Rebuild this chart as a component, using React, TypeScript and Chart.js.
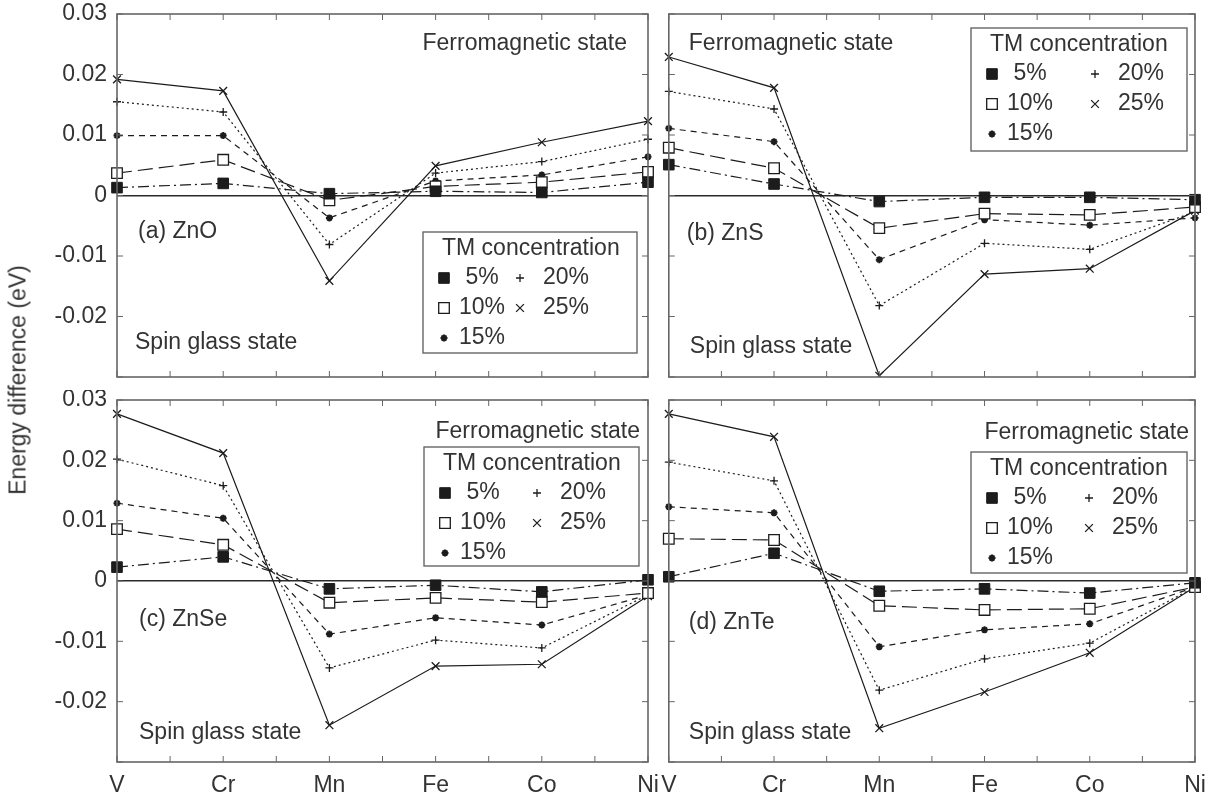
import React, { useEffect, useRef } from 'react';
import { Chart, registerables } from 'chart.js';
import { drawPoint } from 'chart.js/helpers';

Chart.register(...registerables);

// Dopant elements on the x axis
const elements = ['V', 'Cr', 'Mn', 'Fe', 'Co', 'Ni'];
// TM concentration series labels
const concentrationLabels = [' 5%', '10%', '15%', '20%', '25%'];
// Energy axis range (eV)
const yMin = -0.03;
const yMax = 0.03;
const yStep = 0.01;

// (a) ZnO
const znO5 = [0.0013, 0.002, 0.0003, 0.0007, 0.0005, 0.0022];
const znO10 = [0.0037, 0.0059, -0.0008, 0.0015, 0.0022, 0.0039];
const znO15 = [0.0099, 0.0099, -0.0037, 0.0024, 0.0034, 0.0064];
const znO20 = [0.0155, 0.0138, -0.0081, 0.0037, 0.0056, 0.0093];
const znO25 = [0.0192, 0.0173, -0.0141, 0.0049, 0.0088, 0.0123];

// (b) ZnS
const znS5 = [0.0051, 0.0019, -0.001, -0.0003, -0.0003, -0.0007];
const znS10 = [0.0079, 0.0045, -0.0054, -0.003, -0.0032, -0.0019];
const znS15 = [0.0111, 0.0089, -0.0106, -0.004, -0.0049, -0.0037];
const znS20 = [0.0172, 0.0143, -0.0182, -0.0079, -0.0089, -0.0027];
const znS25 = [0.0229, 0.0178, -0.0298, -0.013, -0.0121, -0.0025];

// (c) ZnSe
const znSe5 = [0.0023, 0.004, -0.0013, -0.0007, -0.0018, 0.0002];
const znSe10 = [0.0086, 0.006, -0.0036, -0.0028, -0.0035, -0.002];
const znSe15 = [0.0129, 0.0104, -0.0088, -0.0061, -0.0073, -0.0023];
const znSe20 = [0.0202, 0.0158, -0.0144, -0.0098, -0.0111, -0.0023];
const znSe25 = [0.0277, 0.0212, -0.0239, -0.0141, -0.0138, -0.0025];

// (d) ZnTe
const znTe5 = [0.0007, 0.0046, -0.0017, -0.0013, -0.002, -0.0003];
const znTe10 = [0.007, 0.0068, -0.0041, -0.0048, -0.0046, -0.001];
const znTe15 = [0.0123, 0.0113, -0.0109, -0.0081, -0.0071, -0.001];
const znTe20 = [0.0197, 0.0166, -0.0181, -0.0129, -0.0103, -0.001];
const znTe25 = [0.0277, 0.0239, -0.0244, -0.0184, -0.0119, -0.001];

const FONT = '"Liberation Sans", Arial, Helvetica, sans-serif';
const FONT_SIZE = 23;
const TEXT = '#333333';
const INK = '#1c1c1c';
const FRAME = '#666666';

// Line / marker style for each concentration
const seriesStyles = [
  { dash: [11, 4, 2, 4], pointStyle: 'rect', radius: 7.5, fill: INK, bw: 1 },
  { dash: [15, 6], pointStyle: 'rect', radius: 7.5, fill: '#ffffff', bw: 1.3 },
  { dash: [6, 5], pointStyle: 'star', radius: 3.5, fill: INK, bw: 2 },
  { dash: [2, 3], pointStyle: 'cross', radius: 4, fill: INK, bw: 1.3 },
  { dash: [], pointStyle: 'crossRot', radius: 5.5, fill: INK, bw: 1.3 },
];

type Note = { text: string; from: 'left' | 'right'; dx: number; dy: number };
type PanelDef = {
  series: number[][];
  box: { left: number; top: number; width: number; height: number };
  padTop: number;
  padRight: number;
  yWidth: number;
  xHeight: number;
  showX: boolean;
  showY: boolean;
  notes: Note[];
  legend: { dx: number; dy: number; w: number; h: number; col2: number };
};

const panels: PanelDef[] = [
  {
    series: [znO5, znO10, znO15, znO20, znO25],
    box: { left: 0, top: 0, width: 660, height: 390 },
    padTop: 14, padRight: 12, yWidth: 117, xHeight: 13, showX: false, showY: true,
    notes: [
      { text: 'Ferromagnetic state', from: 'right', dx: -21, dy: 30 },
      { text: '(a) ZnO', from: 'left', dx: 21, dy: 218 },
      { text: 'Spin glass state', from: 'left', dx: 18, dy: 329 },
    ],
    legend: { dx: -225, dy: 218, w: 214, h: 121, col2: 97 },
  },
  {
    series: [znS5, znS10, znS15, znS20, znS25],
    box: { left: 660, top: 0, width: 554, height: 390 },
    padTop: 14, padRight: 19, yWidth: 7, xHeight: 13, showX: false, showY: false,
    notes: [
      { text: 'Ferromagnetic state', from: 'left', dx: 20, dy: 30 },
      { text: '(b) ZnS', from: 'left', dx: 18, dy: 220 },
      { text: 'Spin glass state', from: 'left', dx: 21, dy: 333 },
    ],
    legend: { dx: -224, dy: 14, w: 216, h: 123, col2: 124 },
  },
  {
    series: [znSe5, znSe10, znSe15, znSe20, znSe25],
    box: { left: 0, top: 390, width: 660, height: 404 },
    padTop: 10, padRight: 12, yWidth: 117, xHeight: 32, showX: true, showY: true,
    notes: [
      { text: 'Ferromagnetic state', from: 'right', dx: -8, dy: 32 },
      { text: '(c) ZnSe', from: 'left', dx: 22, dy: 220 },
      { text: 'Spin glass state', from: 'left', dx: 22, dy: 333 },
    ],
    legend: { dx: -224, dy: 47, w: 215, h: 119, col2: 113 },
  },
  {
    series: [znTe5, znTe10, znTe15, znTe20, znTe25],
    box: { left: 660, top: 390, width: 554, height: 404 },
    padTop: 10, padRight: 19, yWidth: 7, xHeight: 32, showX: true, showY: false,
    notes: [
      { text: 'Ferromagnetic state', from: 'right', dx: -6, dy: 33 },
      { text: '(d) ZnTe', from: 'left', dx: 20, dy: 223 },
      { text: 'Spin glass state', from: 'left', dx: 20, dy: 333 },
    ],
    legend: { dx: -224, dy: 52, w: 216, h: 121, col2: 118 },
  },
];

// Box around the plot area with inward tick marks on all four sides
const framePlugin = {
  id: 'frame',
  afterDatasetsDraw(chart: any) {
    const { ctx, chartArea: a, scales } = chart;
    const xs = scales.x;
    const ys = scales.y;
    const len = 6;
    ctx.save();
    ctx.strokeStyle = FRAME;
    ctx.lineWidth = 1;
    ctx.beginPath();
    for (let i = 0; i <= (elements.length - 1) * 2; i++) {
      const px = xs.getPixelForValue(i / 2);
      ctx.moveTo(px, a.bottom);
      ctx.lineTo(px, a.bottom - len);
      ctx.moveTo(px, a.top);
      ctx.lineTo(px, a.top + len);
    }
    ys.ticks.forEach((t: any) => {
      const py = ys.getPixelForValue(t.value);
      ctx.moveTo(a.left, py);
      ctx.lineTo(a.left + len, py);
      ctx.moveTo(a.right, py);
      ctx.lineTo(a.right - len, py);
    });
    ctx.stroke();
    ctx.lineWidth = 1.6;
    ctx.strokeRect(a.left, a.top, a.right - a.left, a.bottom - a.top);
    ctx.restore();
  },
};

// Region notes and the concentration key inside each plot area
const notesPlugin = {
  id: 'notes',
  afterDraw(chart: any, _args: any, opts: any) {
    const p: PanelDef = opts.panel;
    const { ctx, chartArea: a } = chart;
    ctx.save();
    ctx.font = `${FONT_SIZE}px ${FONT}`;
    ctx.fillStyle = TEXT;
    ctx.textBaseline = 'middle';
    p.notes.forEach((n) => {
      ctx.textAlign = n.from === 'left' ? 'left' : 'right';
      const x = n.from === 'left' ? a.left + n.dx : a.right + n.dx;
      ctx.fillText(n.text, x, a.top + n.dy);
    });

    const lg = p.legend;
    const bx = a.right + lg.dx;
    const by = a.top + lg.dy;
    ctx.fillStyle = '#ffffff';
    ctx.fillRect(bx, by, lg.w, lg.h);
    ctx.strokeStyle = FRAME;
    ctx.lineWidth = 1.4;
    ctx.strokeRect(bx, by, lg.w, lg.h);
    ctx.textAlign = 'left';
    ctx.fillStyle = TEXT;
    ctx.fillText('TM concentration', bx + 19, by + 17);
    const slots = [[0, 0], [0, 1], [0, 2], [1, 0], [1, 1]];
    const rows = [46, 76, 106];
    chart.data.datasets.forEach((ds: any, i: number) => {
      const [c, r] = slots[i];
      const mx = bx + (c ? lg.col2 : 21);
      const tx = bx + (c ? lg.col2 + 23 : 36);
      const y = by + rows[r];
      ctx.fillStyle = ds.pointBackgroundColor;
      ctx.strokeStyle = ds.pointBorderColor;
      ctx.lineWidth = ds.pointBorderWidth;
      drawPoint(ctx, { pointStyle: ds.pointStyle, radius: ds.pointRadius, borderWidth: ds.pointBorderWidth, rotation: 0 } as any, mx, y);
      ctx.fillStyle = TEXT;
      ctx.fillText(ds.label, tx, y);
    });
    ctx.restore();
  },
};

function buildConfig(p: PanelDef): any {
  return {
    type: 'line',
    data: {
      labels: elements,
      datasets: p.series.map((values, i) => {
        const s = seriesStyles[i];
        return {
          label: concentrationLabels[i],
          data: values,
          borderColor: INK,
          borderWidth: 1.2,
          borderDash: s.dash,
          fill: false,
          tension: 0,
          pointStyle: s.pointStyle,
          pointRadius: s.radius,
          pointBackgroundColor: s.fill,
          pointBorderColor: INK,
          pointBorderWidth: s.bw,
        };
      }),
    },
    options: {
      animation: false,
      responsive: false,
      events: [],
      layout: { padding: { top: p.padTop, right: p.padRight, left: 0, bottom: 0 } },
      plugins: {
        legend: { display: false },
        tooltip: { enabled: false },
        notes: { panel: p },
      },
      scales: {
        x: {
          type: 'category',
          offset: false,
          grid: { display: false, drawTicks: false },
          border: { display: false },
          ticks: {
            display: p.showX,
            autoSkip: false,
            maxRotation: 0,
            minRotation: 0,
            padding: 10,
            color: TEXT,
            font: { family: FONT, size: FONT_SIZE },
          },
          afterFit: (s: any) => {
            s.height = p.xHeight;
            s.paddingLeft = 0;
            s.paddingRight = 0;
          },
        },
        y: {
          min: yMin,
          max: yMax,
          grid: {
            drawTicks: false,
            lineWidth: 1.4,
            color: (c: any) => (c.tick && Math.abs(c.tick.value) < 1e-9 ? '#2a2a2a' : 'rgba(0,0,0,0)'),
          },
          border: { display: false },
          ticks: {
            display: p.showY,
            stepSize: yStep,
            includeBounds: false,
            padding: 10,
            color: TEXT,
            font: { family: FONT, size: FONT_SIZE },
            callback: (v: any) => {
              const r = Math.round(Number(v) * 100) / 100;
              if (r <= yMin + 1e-9) return '';
              return r === 0 ? '0' : r.toFixed(2);
            },
          },
          afterFit: (s: any) => {
            s.width = p.yWidth;
            s.paddingTop = 0;
            s.paddingBottom = 0;
          },
        },
      },
    },
    plugins: [framePlugin, notesPlugin],
  };
}

function Panel({ p }: { p: PanelDef }) {
  const ref = useRef<HTMLCanvasElement>(null);
  useEffect(() => {
    if (!ref.current) return;
    const chart = new Chart(ref.current, buildConfig(p));
    return () => chart.destroy();
  }, [p]);
  return (
    <canvas
      ref={ref}
      width={p.box.width}
      height={p.box.height}
      style={{ position: 'absolute', left: p.box.left, top: p.box.top, width: p.box.width, height: p.box.height }}
    />
  );
}

export default function App() {
  return (
    <div style={{ position: 'fixed', left: 0, top: 0, width: 1214, height: 794, background: '#ffffff', overflow: 'hidden' }}>
      {panels.map((p, i) => (
        <Panel key={i} p={p} />
      ))}
      <div
        style={{
          position: 'absolute',
          left: 18,
          top: 380,
          transform: 'translate(-50%, -50%) rotate(-90deg)',
          whiteSpace: 'nowrap',
          fontFamily: FONT,
          fontSize: FONT_SIZE,
          color: TEXT,
          lineHeight: 1,
        }}
      >
        Energy difference (eV)
      </div>
    </div>
  );
}
